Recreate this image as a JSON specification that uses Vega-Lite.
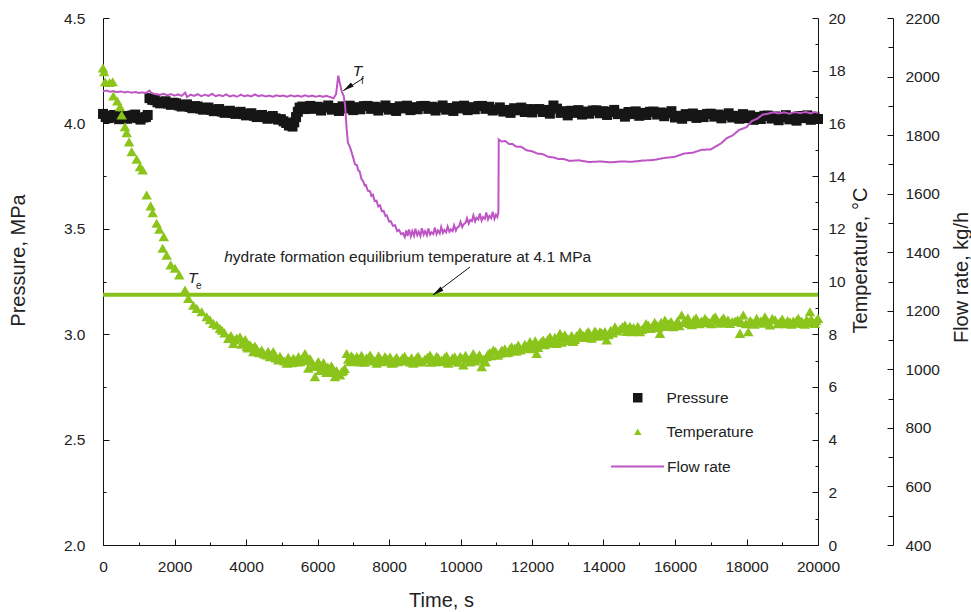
{
  "$schema": "https://vega.github.io/schema/vega-lite/v6.json",
  "width": 715,
  "height": 527,
  "autosize": "none",
  "padding": {"left": 103, "top": 18, "right": 153, "bottom": 67},
  "background": "white",
  "config": {
    "font": "Liberation Sans",
    "view": {"stroke": null},
    "axis": {"domainColor": "#111", "domainWidth": 1, "tickColor": "#111", "tickWidth": 1, "labelColor": "#222", "labelFontSize": 15.5, "titleFontSize": 20, "titleFontWeight": "normal", "titleColor": "#222", "grid": false, "labelFont": "Liberation Sans", "titleFont": "Liberation Sans", "labelFlush": false, "labelOverlap": false},
    "legend": {"labelFontSize": 15.5, "labelColor": "#222", "labelFont": "Liberation Sans", "padding": 0, "orient": "none"},
    "text": {"font": "Liberation Sans", "color": "#222"}
  },
  "datasets": {
    "pressure": [
      {"t":0,"v":4.045},{"t":75,"v":4.030},{"t":150,"v":4.025},{"t":225,"v":4.035},{"t":300,"v":4.040},{"t":375,"v":4.028},{"t":450,"v":4.020},{"t":525,"v":4.032},{"t":600,"v":4.035},{"t":675,"v":4.022},
      {"t":750,"v":4.028},{"t":825,"v":4.038},{"t":900,"v":4.042},{"t":975,"v":4.025},{"t":1050,"v":4.018},{"t":1125,"v":4.028},{"t":1200,"v":4.030},{"t":1250,"v":4.040},
      {"t":1300,"v":4.120},{"t":1375,"v":4.112},{"t":1450,"v":4.110},{"t":1525,"v":4.100},{"t":1600,"v":4.095},{"t":1675,"v":4.102},{"t":1750,"v":4.105},{"t":1825,"v":4.094},{"t":1900,"v":4.088},{"t":1975,"v":4.098},
      {"t":2050,"v":4.095},{"t":2125,"v":4.085},{"t":2200,"v":4.080},{"t":2275,"v":4.088},{"t":2350,"v":4.090},{"t":2425,"v":4.078},{"t":2500,"v":4.072},{"t":2575,"v":4.082},{"t":2650,"v":4.080},{"t":2725,"v":4.070},
      {"t":2800,"v":4.065},{"t":2875,"v":4.074},{"t":2950,"v":4.075},{"t":3025,"v":4.064},{"t":3100,"v":4.058},{"t":3175,"v":4.066},{"t":3250,"v":4.068},{"t":3325,"v":4.056},{"t":3400,"v":4.050},{"t":3475,"v":4.058},
      {"t":3550,"v":4.060},{"t":3625,"v":4.050},{"t":3700,"v":4.045},{"t":3775,"v":4.052},{"t":3850,"v":4.055},{"t":3925,"v":4.044},{"t":4000,"v":4.038},{"t":4075,"v":4.046},{"t":4150,"v":4.048},{"t":4225,"v":4.036},
      {"t":4300,"v":4.030},{"t":4375,"v":4.038},{"t":4450,"v":4.040},{"t":4525,"v":4.030},{"t":4600,"v":4.022},{"t":4675,"v":4.030},{"t":4750,"v":4.035},{"t":4825,"v":4.024},{"t":4900,"v":4.018},{"t":4975,"v":4.020},
      {"t":5050,"v":4.010},{"t":5125,"v":4.002},{"t":5200,"v":3.990},{"t":5250,"v":3.995},{"t":5300,"v":3.985},{"t":5350,"v":4.005},{"t":5400,"v":4.030},{"t":5450,"v":4.055},{"t":5500,"v":4.075},{"t":5575,"v":4.080},
      {"t":5650,"v":4.068},{"t":5725,"v":4.076},
      {"t":5800,"v":4.083},{"t":5900,"v":4.069},{"t":6000,"v":4.079},{"t":6100,"v":4.061},{"t":6200,"v":4.075},{"t":6300,"v":4.085},{"t":6400,"v":4.065},{"t":6500,"v":4.073},{"t":6600,"v":4.059},{"t":6700,"v":4.081},
      {"t":6800,"v":4.071},{"t":6900,"v":4.084},{"t":7000,"v":4.063},{"t":7100,"v":4.077},{"t":7200,"v":4.067},{"t":7300,"v":4.082},{"t":7400,"v":4.083},{"t":7500,"v":4.069},{"t":7600,"v":4.079},{"t":7700,"v":4.061},
      {"t":7800,"v":4.075},{"t":7900,"v":4.085},{"t":8000,"v":4.065},{"t":8100,"v":4.073},{"t":8200,"v":4.059},{"t":8300,"v":4.081},{"t":8400,"v":4.071},{"t":8500,"v":4.084},{"t":8600,"v":4.063},{"t":8700,"v":4.077},
      {"t":8800,"v":4.067},{"t":8900,"v":4.082},{"t":9000,"v":4.083},{"t":9100,"v":4.069},{"t":9200,"v":4.079},{"t":9300,"v":4.061},{"t":9400,"v":4.075},{"t":9500,"v":4.085},{"t":9600,"v":4.065},{"t":9700,"v":4.073},
      {"t":9800,"v":4.059},{"t":9900,"v":4.081},{"t":10000,"v":4.071},{"t":10100,"v":4.084},{"t":10200,"v":4.063},{"t":10300,"v":4.077},{"t":10400,"v":4.067},{"t":10500,"v":4.082},{"t":10600,"v":4.083},{"t":10700,"v":4.069},
      {"t":10800,"v":4.079},{"t":10900,"v":4.061},{"t":11000,"v":4.066},{"t":11100,"v":4.076},{"t":11200,"v":4.056},{"t":11300,"v":4.064},{"t":11400,"v":4.050},{"t":11500,"v":4.072},{"t":11600,"v":4.062},{"t":11700,"v":4.075},
      {"t":11800,"v":4.054},{"t":11900,"v":4.068},{"t":12000,"v":4.052},{"t":12100,"v":4.067},{"t":12200,"v":4.068},{"t":12300,"v":4.054},{"t":12400,"v":4.064},{"t":12500,"v":4.046},{"t":12600,"v":4.085},{"t":12700,"v":4.070},
      {"t":12800,"v":4.050},{"t":12900,"v":4.058},{"t":13000,"v":4.038},{"t":13100,"v":4.060},{"t":13200,"v":4.050},{"t":13300,"v":4.063},{"t":13400,"v":4.042},{"t":13500,"v":4.056},{"t":13600,"v":4.046},{"t":13700,"v":4.061},
      {"t":13800,"v":4.062},{"t":13900,"v":4.048},{"t":14000,"v":4.058},{"t":14100,"v":4.040},{"t":14200,"v":4.054},{"t":14300,"v":4.064},{"t":14400,"v":4.044},{"t":14500,"v":4.046},{"t":14600,"v":4.032},{"t":14700,"v":4.054},
      {"t":14800,"v":4.044},{"t":14900,"v":4.057},{"t":15000,"v":4.036},{"t":15100,"v":4.050},{"t":15200,"v":4.040},{"t":15300,"v":4.055},{"t":15400,"v":4.056},{"t":15500,"v":4.042},{"t":15600,"v":4.052},{"t":15700,"v":4.034},
      {"t":15800,"v":4.048},{"t":15900,"v":4.058},{"t":16000,"v":4.028},{"t":16100,"v":4.036},{"t":16200,"v":4.022},{"t":16300,"v":4.044},{"t":16400,"v":4.034},{"t":16500,"v":4.047},{"t":16600,"v":4.026},{"t":16700,"v":4.040},
      {"t":16800,"v":4.030},{"t":16900,"v":4.045},{"t":17000,"v":4.046},{"t":17100,"v":4.032},{"t":17200,"v":4.042},{"t":17300,"v":4.024},{"t":17400,"v":4.038},{"t":17500,"v":4.048},{"t":17600,"v":4.028},{"t":17700,"v":4.036},
      {"t":17800,"v":4.022},{"t":17900,"v":4.044},{"t":18000,"v":4.025},{"t":18100,"v":4.038},{"t":18200,"v":4.017},{"t":18300,"v":4.031},{"t":18400,"v":4.021},{"t":18500,"v":4.036},{"t":18600,"v":4.037},{"t":18700,"v":4.023},
      {"t":18800,"v":4.033},{"t":18900,"v":4.015},{"t":19000,"v":4.029},{"t":19100,"v":4.039},{"t":19200,"v":4.019},{"t":19300,"v":4.027},{"t":19400,"v":4.013},{"t":19500,"v":4.035},{"t":19600,"v":4.025},{"t":19700,"v":4.038},
      {"t":19800,"v":4.017},{"t":19900,"v":4.031},{"t":20000,"v":4.021}
    ],
    "flow": [
      {"t":0,"v":1950},{"t":100,"v":1952},{"t":200,"v":1948},{"t":300,"v":1950},{"t":400,"v":1947},{"t":500,"v":1949},{"t":600,"v":1946},{"t":700,"v":1948},{"t":800,"v":1945},{"t":900,"v":1947},
      {"t":1000,"v":1944},{"t":1100,"v":1946},{"t":1200,"v":1944},{"t":1300,"v":1952},{"t":1350,"v":1944},{"t":1450,"v":1940},{"t":1600,"v":1938},{"t":1700,"v":1941},{"t":1800,"v":1936},{"t":1900,"v":1940},
      {"t":2000,"v":1935},{"t":2100,"v":1939},{"t":2200,"v":1934},{"t":2300,"v":1945},{"t":2350,"v":1930},{"t":2450,"v":1938},{"t":2550,"v":1934},{"t":2650,"v":1940},{"t":2750,"v":1933},{"t":2850,"v":1938},
      {"t":2950,"v":1934},{"t":3050,"v":1941},{"t":3150,"v":1933},{"t":3250,"v":1937},{"t":3350,"v":1933},{"t":3450,"v":1939},{"t":3550,"v":1932},{"t":3650,"v":1936},{"t":3750,"v":1931},{"t":3850,"v":1938},
      {"t":3950,"v":1933},{"t":4050,"v":1936},{"t":4150,"v":1932},{"t":4250,"v":1939},{"t":4350,"v":1933},{"t":4450,"v":1936},{"t":4550,"v":1932},{"t":4650,"v":1935},{"t":4750,"v":1931},{"t":4850,"v":1936},
      {"t":4950,"v":1933},{"t":5050,"v":1935},{"t":5150,"v":1931},{"t":5250,"v":1936},{"t":5350,"v":1932},{"t":5450,"v":1935},{"t":5550,"v":1931},{"t":5650,"v":1936},{"t":5750,"v":1932},{"t":5850,"v":1935},
      {"t":5950,"v":1931},{"t":6050,"v":1934},{"t":6150,"v":1931},{"t":6250,"v":1934},{"t":6350,"v":1930},{"t":6450,"v":1926},{"t":6520,"v":1940},{"t":6580,"v":2003},{"t":6630,"v":1975},{"t":6680,"v":1948},
      {"t":6730,"v":1935},{"t":6770,"v":1905},{"t":6810,"v":1830},{"t":6850,"v":1775},{"t":6920,"v":1755},
      {"t":7000,"v":1722},{"t":7050,"v":1700},{"t":7100,"v":1698},{"t":7140,"v":1680},{"t":7180,"v":1676},{"t":7230,"v":1650},{"t":7280,"v":1642},{"t":7320,"v":1628},{"t":7350,"v":1630},{"t":7410,"v":1610},
      {"t":7470,"v":1608},{"t":7510,"v":1592},{"t":7550,"v":1596},{"t":7600,"v":1575},{"t":7650,"v":1576},{"t":7700,"v":1556},{"t":7750,"v":1560},{"t":7800,"v":1540},{"t":7850,"v":1541},{"t":7900,"v":1524},
      {"t":7940,"v":1526},{"t":8000,"v":1505},{"t":8050,"v":1506},{"t":8110,"v":1490},{"t":8170,"v":1492},{"t":8230,"v":1472},{"t":8280,"v":1476},{"t":8340,"v":1462},
      {"t":8390,"v":1465},{"t":8440,"v":1452},{"t":8480,"v":1474},{"t":8520,"v":1455},{"t":8560,"v":1478},{"t":8610,"v":1454},{"t":8650,"v":1472},{"t":8700,"v":1456},{"t":8740,"v":1480},{"t":8790,"v":1458},
      {"t":8830,"v":1470},{"t":8880,"v":1455},{"t":8920,"v":1482},{"t":8970,"v":1460},{"t":9010,"v":1472},{"t":9060,"v":1458},{"t":9100,"v":1481},{"t":9150,"v":1460},{"t":9190,"v":1468},{"t":9240,"v":1462},
      {"t":9280,"v":1484},{"t":9330,"v":1462},{"t":9370,"v":1474},{"t":9420,"v":1464},{"t":9460,"v":1486},{"t":9510,"v":1466},{"t":9550,"v":1476},{"t":9600,"v":1468},{"t":9640,"v":1488},{"t":9690,"v":1470},
      {"t":9730,"v":1478},{"t":9780,"v":1472},{"t":9820,"v":1492},{"t":9870,"v":1474},{"t":9910,"v":1484},{"t":9960,"v":1488},{"t":10000,"v":1504},{"t":10050,"v":1486},{"t":10090,"v":1496},{"t":10140,"v":1500},
      {"t":10180,"v":1516},{"t":10230,"v":1498},{"t":10270,"v":1510},{"t":10320,"v":1506},{"t":10360,"v":1526},{"t":10410,"v":1505},{"t":10450,"v":1518},{"t":10500,"v":1512},{"t":10540,"v":1532},{"t":10590,"v":1508},
      {"t":10630,"v":1520},{"t":10680,"v":1514},{"t":10720,"v":1536},{"t":10770,"v":1512},{"t":10810,"v":1524},{"t":10860,"v":1516},{"t":10900,"v":1538},{"t":10950,"v":1514},{"t":10990,"v":1528},{"t":11030,"v":1520},
      {"t":11060,"v":1536},
      {"t":11070,"v":1785},{"t":11150,"v":1778},{"t":11250,"v":1780},{"t":11350,"v":1770},{"t":11450,"v":1770},{"t":11550,"v":1761},{"t":11700,"v":1760},{"t":11850,"v":1748},{"t":12000,"v":1745},{"t":12150,"v":1737},
      {"t":12300,"v":1735},{"t":12450,"v":1726},{"t":12600,"v":1724},{"t":12750,"v":1718},{"t":12900,"v":1718},{"t":13050,"v":1712},{"t":13300,"v":1714},{"t":13600,"v":1708},{"t":13900,"v":1710},{"t":14200,"v":1707},
      {"t":14500,"v":1710},{"t":14800,"v":1709},{"t":15100,"v":1713},{"t":15400,"v":1715},{"t":15700,"v":1722},{"t":16000,"v":1726},{"t":16250,"v":1737},{"t":16500,"v":1740},{"t":16750,"v":1750},{"t":17000,"v":1751},
      {"t":17150,"v":1762},{"t":17300,"v":1773},{"t":17450,"v":1790},{"t":17600,"v":1798},{"t":17800,"v":1818},{"t":18000,"v":1827},{"t":18150,"v":1848},{"t":18300,"v":1856},{"t":18450,"v":1870},{"t":18600,"v":1873},
      {"t":18750,"v":1878},{"t":18900,"v":1874},{"t":19050,"v":1878},{"t":19200,"v":1873},{"t":19350,"v":1879},{"t":19500,"v":1875},{"t":19650,"v":1879},{"t":19800,"v":1874},{"t":19900,"v":1879},{"t":20000,"v":1876}
    ],
    "temperature": [
      {"t":0,"v":18.10},{"t":30,"v":17.96},{"t":60,"v":17.58},{"t":180,"v":17.55},{"t":270,"v":17.58},{"t":290,"v":17.04},{"t":400,"v":16.85},{"t":476,"v":16.63},{"t":523,"v":16.32},{"t":615,"v":15.87},
      {"t":663,"v":15.65},{"t":730,"v":15.30},{"t":803,"v":14.93},{"t":943,"v":14.64},{"t":1035,"v":14.36},{"t":1110,"v":14.23},{"t":1222,"v":13.28},{"t":1333,"v":12.87},{"t":1389,"v":12.61},{"t":1501,"v":12.21},
      {"t":1576,"v":11.98},{"t":1669,"v":11.26},{"t":1700,"v":11.70},{"t":1781,"v":11.00},{"t":1893,"v":10.63},{"t":2014,"v":10.50},{"t":2133,"v":10.25},{"t":2294,"v":9.68},{"t":2387,"v":9.36},{"t":2527,"v":9.10},
      {"t":2621,"v":8.98},{"t":2761,"v":8.85},{"t":2900,"v":8.66},{"t":2990,"v":8.55},{"t":3085,"v":8.41},{"t":3180,"v":8.35},{"t":3272,"v":8.22},{"t":3400,"v":8.05},{"t":3505,"v":7.84},{"t":3645,"v":7.65},
      {"t":3740,"v":7.85},{"t":3832,"v":7.90},{"t":3930,"v":7.70},{"t":4019,"v":7.53},{"t":4110,"v":7.60},{"t":4204,"v":7.34},{"t":4300,"v":7.45},{"t":4439,"v":7.40},{"t":4500,"v":7.25},{"t":4579,"v":7.21},
      {"t":4670,"v":7.15},{"t":4763,"v":7.34},{"t":4830,"v":7.10},{"t":4903,"v":7.02},{"t":5000,"v":7.05},{"t":5138,"v":6.90},{"t":5230,"v":7.00},{"t":5323,"v":7.09},{"t":5420,"v":6.95},{"t":5510,"v":6.96},
      {"t":5580,"v":7.10},{"t":5650,"v":7.27},{"t":5742,"v":6.71},{"t":5830,"v":6.95},{"t":5930,"v":6.39},{"t":6022,"v":6.96},{"t":6120,"v":6.80},{"t":6209,"v":6.64},{"t":6290,"v":6.75},{"t":6349,"v":6.64},
      {"t":6420,"v":6.55},{"t":6489,"v":6.39},{"t":6580,"v":6.50},{"t":6676,"v":6.58},{"t":6760,"v":6.70},{"t":6816,"v":7.27},{"t":6860,"v":7.05},{"t":6909,"v":6.96},{"t":7000,"v":7.10},{"t":7096,"v":7.15},
      {"t":7190,"v":6.95},{"t":7281,"v":7.02},{"t":7370,"v":7.10},{"t":7468,"v":7.21},{"t":7560,"v":7.00},{"t":7655,"v":6.90},{"t":7770,"v":7.05},{"t":7887,"v":7.15},{"t":7980,"v":7.00},{"t":8075,"v":6.90},
      {"t":8170,"v":7.05},{"t":8259,"v":6.96},{"t":8380,"v":7.10},{"t":8494,"v":7.02},{"t":8590,"v":6.95},{"t":8679,"v":6.90},{"t":8770,"v":7.10},{"t":8866,"v":7.02},{"t":9000,"v":7.05},{"t":9146,"v":7.21},
      {"t":9220,"v":7.05},{"t":9286,"v":6.96},{"t":9380,"v":7.10},{"t":9473,"v":7.02},{"t":9560,"v":7.12},{"t":9658,"v":6.90},{"t":9780,"v":7.10},{"t":9893,"v":7.02},{"t":9990,"v":7.15},{"t":10078,"v":6.83},
      {"t":10200,"v":7.05},{"t":10357,"v":7.27},{"t":10470,"v":7.10},{"t":10592,"v":6.77},{"t":10650,"v":7.05},{"t":10732,"v":7.15},{"t":10820,"v":7.30},{"t":10917,"v":7.40},{"t":11050,"v":7.20},{"t":11152,"v":7.40},
      {"t":11196,"v":7.34},{"t":11290,"v":7.30},{"t":11384,"v":7.46},{"t":11476,"v":7.40},{"t":11560,"v":7.35},{"t":11616,"v":7.59},{"t":11756,"v":7.46},{"t":11850,"v":7.50},{"t":11943,"v":7.72},{"t":12040,"v":7.60},
      {"t":12130,"v":7.27},{"t":12220,"v":7.65},{"t":12315,"v":7.78},{"t":12400,"v":7.70},{"t":12502,"v":7.90},{"t":12600,"v":7.75},{"t":12690,"v":7.65},{"t":12782,"v":8.03},{"t":12880,"v":7.90},{"t":12969,"v":7.84},
      {"t":13060,"v":7.75},{"t":13154,"v":7.72},{"t":13250,"v":7.95},{"t":13342,"v":8.09},{"t":13430,"v":7.95},{"t":13529,"v":8.03},{"t":13620,"v":7.90},{"t":13714,"v":7.97},{"t":13800,"v":8.05},{"t":13901,"v":8.09},
      {"t":14000,"v":7.95},{"t":14088,"v":7.78},{"t":14200,"v":8.15},{"t":14320,"v":8.28},{"t":14460,"v":8.20},{"t":14600,"v":8.35},{"t":14700,"v":8.20},{"t":14787,"v":8.09},{"t":14900,"v":8.15},{"t":15019,"v":8.09},
      {"t":15130,"v":8.25},{"t":15252,"v":8.35},{"t":15370,"v":8.30},{"t":15487,"v":8.35},{"t":15579,"v":8.03},{"t":15650,"v":8.30},{"t":15719,"v":8.54},{"t":15830,"v":8.40},{"t":15951,"v":8.28},{"t":16070,"v":8.50},
      {"t":16186,"v":8.73},{"t":16300,"v":8.50},{"t":16418,"v":8.41},{"t":16530,"v":8.55},{"t":16650,"v":8.47},{"t":16740,"v":8.50},{"t":16838,"v":8.60},{"t":16950,"v":8.45},{"t":17070,"v":8.60},{"t":17190,"v":8.50},
      {"t":17305,"v":8.54},{"t":17420,"v":8.45},{"t":17537,"v":8.41},{"t":17680,"v":8.50},{"t":17817,"v":8.03},{"t":17909,"v":8.73},{"t":18049,"v":8.09},{"t":18150,"v":8.45},{"t":18284,"v":8.60},{"t":18400,"v":8.50},
      {"t":18516,"v":8.66},{"t":18656,"v":8.35},{"t":18800,"v":8.55},{"t":18936,"v":8.47},{"t":19080,"v":8.40},{"t":19216,"v":8.47},{"t":19310,"v":8.50},{"t":19403,"v":8.54},{"t":19500,"v":8.45},{"t":19587,"v":8.41},
      {"t":19680,"v":8.55},{"t":19775,"v":8.85},{"t":19850,"v":8.45},{"t":19915,"v":8.41},{"t":20000,"v":8.60},
      {"t":3330,"v":8.15},{"t":3580,"v":7.95},{"t":3690,"v":7.78},{"t":3880,"v":7.62},{"t":3980,"v":7.80},{"t":4060,"v":7.48},{"t":4160,"v":7.52},{"t":4250,"v":7.55},{"t":4370,"v":7.30},{"t":4620,"v":7.35},
      {"t":4720,"v":7.22},{"t":4950,"v":7.16},{"t":5070,"v":6.98},{"t":5180,"v":7.12},{"t":5280,"v":6.92},{"t":5370,"v":7.02},{"t":5470,"v":7.15},{"t":5700,"v":7.00},{"t":5790,"v":7.08},{"t":5880,"v":6.78},
      {"t":5980,"v":6.85},{"t":6070,"v":6.62},{"t":6170,"v":6.92},{"t":6250,"v":6.55},{"t":6390,"v":6.80},{"t":6530,"v":6.62},{"t":6630,"v":6.45},{"t":6720,"v":6.62},
      {"t":6950,"v":7.18},{"t":7050,"v":6.98},{"t":7140,"v":7.06},{"t":7230,"v":7.20},{"t":7320,"v":6.94},{"t":7420,"v":7.05},{"t":7510,"v":7.12},{"t":7600,"v":6.98},{"t":7710,"v":7.18},{"t":7830,"v":6.96},
      {"t":7930,"v":7.08},{"t":8030,"v":7.14},{"t":8120,"v":6.92},{"t":8215,"v":7.12},{"t":8320,"v":7.00},{"t":8440,"v":7.16},{"t":8540,"v":6.98},{"t":8630,"v":7.10},{"t":8720,"v":6.96},{"t":8820,"v":7.16},
      {"t":8930,"v":6.95},{"t":9070,"v":7.12},{"t":9180,"v":6.94},{"t":9330,"v":7.16},{"t":9420,"v":6.98},{"t":9510,"v":6.96},{"t":9610,"v":7.18},{"t":9720,"v":6.98},{"t":9840,"v":7.14},{"t":9940,"v":6.94},
      {"t":10030,"v":7.10},{"t":10140,"v":7.20},{"t":10260,"v":6.95},{"t":10310,"v":7.12},{"t":10410,"v":6.98},{"t":10530,"v":7.22},{"t":10700,"v":6.95},{"t":10770,"v":7.25},{"t":10870,"v":7.18},{"t":10980,"v":7.35},
      {"t":11100,"v":7.28},{"t":11240,"v":7.45},{"t":11340,"v":7.32},{"t":11430,"v":7.52},{"t":11520,"v":7.48},{"t":11680,"v":7.40},{"t":11800,"v":7.62},{"t":11900,"v":7.55},{"t":11990,"v":7.45},{"t":12090,"v":7.75},
      {"t":12170,"v":7.50},{"t":12270,"v":7.72},{"t":12360,"v":7.60},{"t":12450,"v":7.82},{"t":12550,"v":7.66},{"t":12640,"v":7.88},{"t":12740,"v":7.78},{"t":12830,"v":7.70},{"t":12920,"v":7.98},{"t":13010,"v":7.82},
      {"t":13110,"v":7.95},{"t":13200,"v":7.80},{"t":13300,"v":7.88},{"t":13390,"v":8.00},{"t":13480,"v":7.88},{"t":13580,"v":8.10},{"t":13670,"v":7.85},{"t":13760,"v":8.12},{"t":13850,"v":7.92},{"t":13950,"v":8.05},
      {"t":14040,"v":8.10},{"t":14140,"v":7.98},{"t":14260,"v":8.05},{"t":14390,"v":8.12},{"t":14530,"v":8.28},{"t":14650,"v":8.10},
      {"t":14740,"v":8.30},{"t":14840,"v":8.25},{"t":14960,"v":8.30},{"t":15070,"v":8.18},{"t":15190,"v":8.40},{"t":15310,"v":8.22},{"t":15430,"v":8.45},{"t":15530,"v":8.25},{"t":15610,"v":8.45},{"t":15780,"v":8.30},
      {"t":15890,"v":8.48},{"t":16010,"v":8.36},{"t":16120,"v":8.32},{"t":16240,"v":8.45},{"t":16360,"v":8.62},{"t":16470,"v":8.36},{"t":16590,"v":8.62},{"t":16690,"v":8.40},{"t":16790,"v":8.48},{"t":16890,"v":8.52},
      {"t":17010,"v":8.40},{"t":17130,"v":8.66},{"t":17250,"v":8.42},{"t":17360,"v":8.62},{"t":17480,"v":8.55},{"t":17600,"v":8.48},{"t":17750,"v":8.55},{"t":17860,"v":8.45},{"t":17980,"v":8.40},{"t":18100,"v":8.52},
      {"t":18220,"v":8.38},{"t":18340,"v":8.48},{"t":18460,"v":8.42},{"t":18580,"v":8.50},{"t":18720,"v":8.60},{"t":18870,"v":8.40},{"t":19000,"v":8.58},{"t":19150,"v":8.52},{"t":19260,"v":8.38},{"t":19360,"v":8.42},
      {"t":19450,"v":8.60},{"t":19540,"v":8.50},{"t":19630,"v":8.38},{"t":19720,"v":8.47},{"t":19810,"v":8.58},{"t":19950,"v":8.52}
    ],
    "italicNotes": [
      {"t": 3390, "T": 10.74, "label": "h"},
      {"t": 2377, "T": 9.94, "label": "T"},
      {"t": 6983, "T": 17.80, "label": "T"}
    ],
    "subNotes": [
      {"t": 2600, "T": 9.70, "label": "e"},
      {"t": 7215, "T": 17.50, "label": "f"}
    ],
    "mainNote": [
      {"t": 3390, "T": 10.74, "label": "ydrate formation equilibrium temperature at 4.1 MPa"}
    ],
    "arrows": [
      {"t": 7281, "T": 17.71, "t2": 6721, "T2": 17.24},
      {"t": 10265, "T": 10.55, "t2": 9230, "T2": 9.49}
    ]
  },
  "layer": [
    {
      "data": {"name": "pressure"},
      "mark": {"type": "point", "shape": "square", "filled": true, "size": 100, "opacity": 1, "color": "#161616"},
      "encoding": {
        "x": {"field": "t", "type": "quantitative", "scale": {"domain": [0, 20000], "nice": false, "zero": false},
          "axis": {"orient": "bottom", "title": "Time, s", "ticks": false, "tickSize": 0, "values": [0,2000,4000,6000,8000,10000,12000,14000,16000,18000,20000],
            "labelExpr": "'' + datum.value", "labelPadding": 14,
            "titleX": 338, "titleY": 55, "titleBaseline": "middle"}},
        "y": {"field": "v", "type": "quantitative", "scale": {"domain": [2, 4.5], "nice": false, "zero": false},
          "axis": {"orient": "left", "title": "Pressure, MPa", "ticks": false, "tickSize": 0, "values": [2,2.5,3,3.5,4,4.5],
            "format": ".1f", "labelPadding": 18,
            "titleAngle": -90, "titleX": -85, "titleY": 242, "titleBaseline": "middle"}},
        "shape": {"datum": "Pressure", "type": "nominal", "scale": {"domain": ["Pressure"], "range": ["square"]},
          "legend": {"title": null, "legendX": 527, "legendY": 372, "symbolSize": 90, "labelOffset": 21, "symbolFillColor": "#161616", "symbolStrokeWidth": 0}}
      }
    },
    {
      "data": {"name": "flow"},
      "mark": {"type": "line", "strokeWidth": 2, "color": "#bd55c4"},
      "encoding": {
        "x": {"field": "t", "type": "quantitative", "axis": null},
        "y": {"field": "v", "type": "quantitative", "scale": {"domain": [400, 2200], "nice": false, "zero": false},
          "axis": {"orient": "right", "offset": 75, "title": "Flow rate, kg/h", "ticks": false, "tickSize": 0,
            "values": [400,600,800,1000,1200,1400,1600,1800,2000,2200],
            "labelExpr": "'' + datum.value", "labelPadding": 12,
            "titleAngle": -90, "titleX": 68, "titleY": 259, "titleBaseline": "middle"}},
        "strokeDash": {"datum": "Flow rate", "type": "nominal", "scale": {"domain": ["Flow rate"], "range": [[1, 0]]},
          "legend": {"title": null, "legendX": 507, "legendY": 421, "symbolSize": 2809, "symbolStrokeWidth": 2, "symbolStrokeColor": "#bd55c4", "labelOffset": 2}}
      }
    },
    {
      "data": {"values": [{"T": 9.5}]},
      "mark": {"type": "rule", "color": "#86c21a", "strokeWidth": 4},
      "encoding": {"y": {"field": "T", "type": "quantitative", "scale": {"domain": [0, 20], "nice": false, "zero": false}, "axis": null}}
    },
    {
      "data": {"name": "temperature"},
      "mark": {"type": "point", "shape": "triangle-up", "filled": true, "size": 110, "opacity": 1},
      "encoding": {
        "x": {"field": "t", "type": "quantitative", "axis": null},
        "y": {"field": "v", "type": "quantitative", "scale": {"domain": [0, 20], "nice": false, "zero": false},
          "axis": {"orient": "right", "title": "Temperature, °C", "ticks": false, "tickSize": 0,
            "values": [0,2,4,6,8,10,12,14,16,18,20],
            "labelExpr": "'' + datum.value", "labelPadding": 10,
            "titleAngle": -90, "titleX": 42, "titleY": 242, "titleBaseline": "middle"}},
        "color": {"datum": "Temperature", "type": "nominal", "scale": {"domain": ["Temperature"], "range": ["#8bc41b"]},
          "legend": {"title": null, "legendX": 527, "legendY": 406, "symbolSize": 55, "labelOffset": 21}}
      }
    },
    {
      "data": {"name": "arrows"},
      "mark": {"type": "rule", "color": "#111", "strokeWidth": 1},
      "encoding": {
        "x": {"field": "t", "type": "quantitative", "axis": null},
        "x2": {"field": "t2"},
        "y": {"field": "T", "type": "quantitative", "scale": {"domain": [0, 20], "nice": false, "zero": false}, "axis": null},
        "y2": {"field": "T2"}
      }
    },
    {
      "data": {"name": "arrows"},
      "mark": {"type": "point", "shape": "M0,0L-0.45,2L0.45,2Z", "filled": true, "size": 121, "angle": 235, "color": "#111", "opacity": 1},
      "encoding": {
        "x": {"field": "t2", "type": "quantitative", "axis": null},
        "y": {"field": "T2", "type": "quantitative", "scale": {"domain": [0, 20], "nice": false, "zero": false}, "axis": null}
      }
    },
    {
      "data": {"name": "italicNotes"},
      "mark": {"type": "text", "fontStyle": "italic", "fontSize": 15.5, "align": "left", "baseline": "alphabetic", "color": "#222"},
      "encoding": {
        "x": {"field": "t", "type": "quantitative", "axis": null},
        "y": {"field": "T", "type": "quantitative", "scale": {"domain": [0, 20], "nice": false, "zero": false}, "axis": null},
        "text": {"field": "label"}
      }
    },
    {
      "data": {"name": "subNotes"},
      "mark": {"type": "text", "fontSize": 10, "align": "left", "baseline": "alphabetic", "color": "#222"},
      "encoding": {
        "x": {"field": "t", "type": "quantitative", "axis": null},
        "y": {"field": "T", "type": "quantitative", "scale": {"domain": [0, 20], "nice": false, "zero": false}, "axis": null},
        "text": {"field": "label"}
      }
    },
    {
      "data": {"name": "mainNote"},
      "mark": {"type": "text", "fontSize": 15.5, "align": "left", "baseline": "alphabetic", "dx": 8.6, "color": "#222"},
      "encoding": {
        "x": {"field": "t", "type": "quantitative", "axis": null},
        "y": {"field": "T", "type": "quantitative", "scale": {"domain": [0, 20], "nice": false, "zero": false}, "axis": null},
        "text": {"field": "label"}
      }
    },
    {
      "data": {"name": "pressure"},
      "mark": {"type": "point", "opacity": 0},
      "encoding": {
        "x": {"field": "t", "type": "quantitative",
          "axis": {"orient": "top", "offset": -527, "values": [0,2000,4000,6000,8000,10000,12000,14000,16000,18000,20000], "labels": false, "domain": false, "title": null, "tickSize": 6}},
        "y": {"field": "v", "type": "quantitative", "scale": {"domain": [2, 4.5], "nice": false, "zero": false},
          "axis": {"orient": "right", "offset": -715, "values": [2,2.5,3,3.5,4,4.5], "labels": false, "domain": false, "title": null, "tickSize": 6}}
      }
    },
    {
      "data": {"name": "pressure"},
      "mark": {"type": "point", "opacity": 0},
      "encoding": {
        "x": {"field": "t", "type": "quantitative",
          "axis": {"orient": "top", "offset": -527, "values": [1000,3000,5000,7000,9000,11000,13000,15000,17000,19000], "labels": false, "domain": false, "title": null, "tickSize": 3}},
        "y": {"field": "v", "type": "quantitative", "scale": {"domain": [2, 4.5], "nice": false, "zero": false},
          "axis": {"orient": "right", "offset": -715, "values": [2.25,2.75,3.25,3.75,4.25], "labels": false, "domain": false, "title": null, "tickSize": 3}}
      }
    },
    {
      "data": {"name": "temperature"},
      "mark": {"type": "point", "opacity": 0},
      "encoding": {
        "x": {"field": "t", "type": "quantitative", "axis": null},
        "y": {"field": "v", "type": "quantitative", "scale": {"domain": [0, 20], "nice": false, "zero": false},
          "axis": {"orient": "left", "offset": -715, "values": [0,2,4,6,8,10,12,14,16,18,20], "labels": false, "domain": false, "title": null, "tickSize": 6}}
      }
    },
    {
      "data": {"name": "temperature"},
      "mark": {"type": "point", "opacity": 0},
      "encoding": {
        "x": {"field": "t", "type": "quantitative", "axis": null},
        "y": {"field": "v", "type": "quantitative", "scale": {"domain": [0, 20], "nice": false, "zero": false},
          "axis": {"orient": "left", "offset": -715, "values": [1,3,5,7,9,11,13,15,17,19], "labels": false, "domain": false, "title": null, "tickSize": 3}}
      }
    },
    {
      "data": {"name": "flow"},
      "mark": {"type": "point", "opacity": 0},
      "encoding": {
        "x": {"field": "t", "type": "quantitative", "axis": null},
        "y": {"field": "v", "type": "quantitative", "scale": {"domain": [400, 2200], "nice": false, "zero": false},
          "axis": {"orient": "left", "offset": -790, "values": [400,600,800,1000,1200,1400,1600,1800,2000,2200], "labels": false, "domain": false, "title": null, "tickSize": 6}}
      }
    },
    {
      "data": {"name": "flow"},
      "mark": {"type": "point", "opacity": 0},
      "encoding": {
        "x": {"field": "t", "type": "quantitative", "axis": null},
        "y": {"field": "v", "type": "quantitative", "scale": {"domain": [400, 2200], "nice": false, "zero": false},
          "axis": {"orient": "left", "offset": -790, "values": [500,700,900,1100,1300,1500,1700,1900,2100], "labels": false, "domain": false, "title": null, "tickSize": 5}}
      }
    }
  ],
  "resolve": {"scale": {"y": "independent"}, "axis": {"y": "independent", "x": "independent"}}
}
